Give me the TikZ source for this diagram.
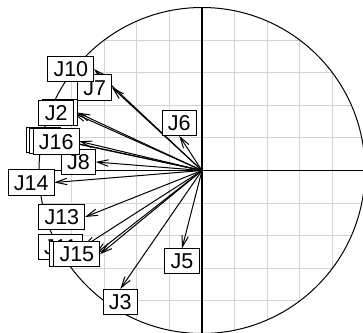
\documentclass[tikz,border=0pt]{standalone}
\usepackage{fontspec}
\setmainfont{Liberation Sans}
\usepackage{tikz}
\usetikzlibrary{arrows.meta}
\definecolor{gridgrey}{HTML}{D3D3D3}

\begin{document}
\begin{tikzpicture}[
    x=1bp, y=1bp,
    >={Straight Barb[length=11bp,width=6.5bp]},
    gridline/.style={draw=gridgrey, line width=1.1bp},
    axisline/.style={line width=1.4bp},
    corarrow/.style={->, line width=1bp},
    varname/.style={draw, fill=white, line width=1bp, outer sep=0pt,
      font=\fontsize{21.5bp}{25bp}\selectfont, inner xsep=5.8bp, inner ysep=0pt,
      text height=15.4bp, text depth=0pt, minimum height=25.5bp}
  ]
  \useasboundingbox (-202,-162.5) rectangle (161,170.5);
  \clip (-202,-162.5) rectangle (161,170.5);

  \coordinate (o) at (0,0);
  % grid inside the unit circle
  \begin{scope}
    \clip (o) circle (163);
    \draw[gridline, step=32.6] (-163,-163) grid (163,163);
  \end{scope}
  \draw[line width=1bp] (o) circle (163);
  \draw[axisline] (-163,0) -- (163,0);
  \draw[axisline] (0,-163) -- (0,163);

  % arrow ends
  \coordinate (t1) at (-124.7,58);
  \coordinate (t2) at (-128.7,57.5);
  \coordinate (t3) at (-81.7,-118.5);
  \coordinate (t4) at (-141,30.5);
  \coordinate (t5) at (-20,-77.8);
  \coordinate (t6) at (-22.8,34.8);
  \coordinate (t7) at (-90,83);
  \coordinate (t8) at (-106.3,8.5);
  \coordinate (t9) at (-138.5,29.5);
  \coordinate (t10) at (-108,101.5);
  \coordinate (t11) at (-119,-76.5);
  \coordinate (t12) at (-106.7,-83.5);
  \coordinate (t13) at (-117,-46.5);
  \coordinate (t14) at (-147.7,-12);
  \coordinate (t15) at (-102,-83.7);
  \coordinate (t16) at (-122.7,29.2);

  \foreach \i in {1,...,16}
    \draw[corarrow] (o) -- (t\i);

  % labels
  \node (j1) [varname, anchor=east] at (t1) {J1};
  \node (j2) [varname, anchor=east] at (t2) {J2};
  \node (j3) [varname, anchor=north] at (t3) {J3};
  \node (j4) [varname, anchor=east] at (t4) {J4};
  \node (j5) [varname, anchor=north] at (t5) {J5};
  \node (j6) [varname, anchor=south] at (t6) {J6};
  \node (j7) [varname, anchor=east] at (t7) {J7};
  \node (j8) [varname, anchor=east] at (t8) {J8};
  \node (j9) [varname, anchor=east] at (t9) {J9};
  \node (j10) [varname, anchor=east] at (t10) {J10};
  \node (j11) [varname, anchor=east] at (t11) {J11};
  \node (j12) [varname, anchor=east] at (t12) {J12};
  \node (j13) [varname, anchor=east] at (t13) {J13};
  \node (j14) [varname, anchor=east] at (t14) {J14};
  \node (j15) [varname, anchor=east] at (t15) {J15};
  \node (j16) [varname, anchor=east] at (t16) {J16};
\end{tikzpicture}
\end{document}
